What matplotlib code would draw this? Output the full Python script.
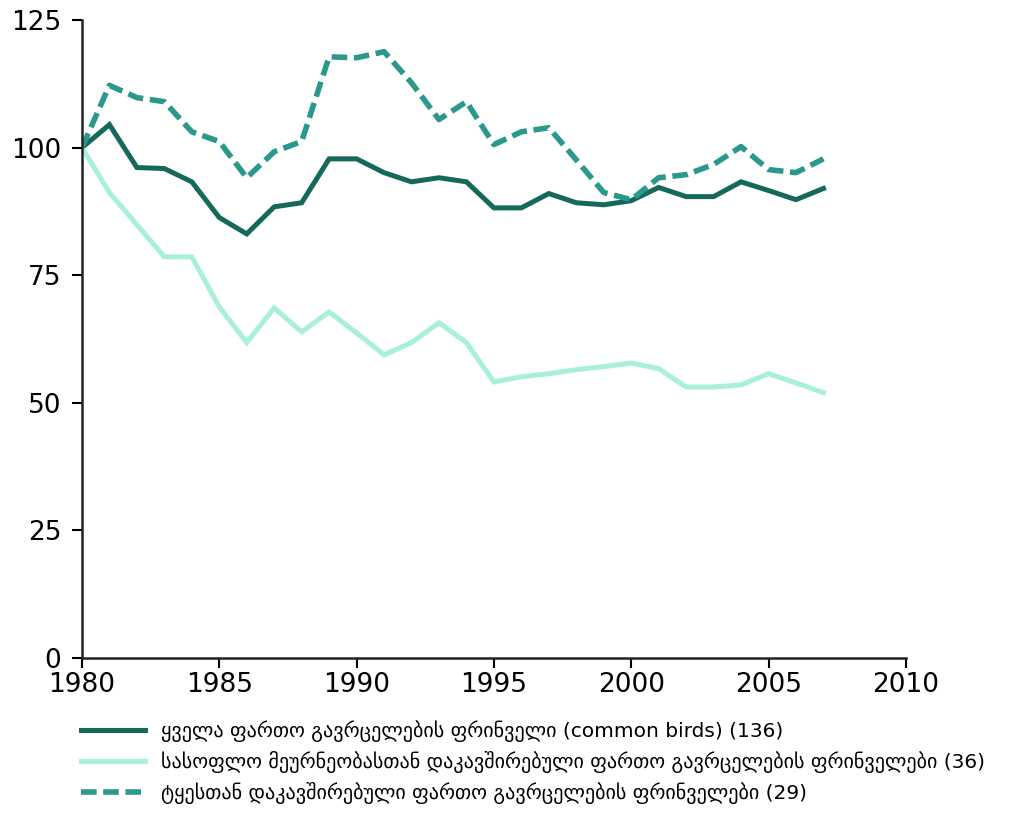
import matplotlib.pyplot as plt
import numpy as np

# years and index values (1980 = 100)
years = list(range(1980, 2008))

common_birds = [100, 104.5, 96.1, 95.9, 93.3, 86.3, 83.1, 88.4, 89.2, 97.8,
                97.8, 95.1, 93.3, 94.1, 93.3, 88.2, 88.2, 91.0, 89.2, 88.8,
                89.6, 92.2, 90.4, 90.4, 93.3, 91.6, 89.8, 92.0]

farmland_birds = [100, 91.2, 84.9, 78.6, 78.6, 68.8, 61.8, 68.6, 63.9, 67.8,
                  63.7, 59.4, 61.8, 65.7, 61.8, 54.1, 55.1, 55.7, 56.5, 57.1,
                  57.8, 56.7, 53.1, 53.1, 53.5, 55.7, 53.9, 52.0]

forest_birds = [100, 112.2, 109.8, 109.0, 103.1, 101.2, 94.1, 99.2, 101.2, 117.8,
                117.6, 118.8, 112.7, 105.5, 109.0, 100.6, 103.1, 103.9, 97.6, 91.2,
                89.8, 94.1, 94.7, 96.7, 100.2, 95.7, 95.1, 97.8]

labels = ["ყველა ფართო გავრცელების ფრინველი (common birds) (136)",
          "სასოფლო მეურნეობასთან დაკავშირებული ფართო გავრცელების ფრინველები (36)",
          "ტყესთან დაკავშირებული ფართო გავრცელების ფრინველები (29)"]

xticks = [1980, 1985, 1990, 1995, 2000, 2005, 2010]
yticks = [0, 25, 50, 75, 100, 125]

plt.rcParams['font.family'] = ['DejaVu Sans']

fig = plt.figure(figsize=(10.35, 8.14), dpi=100)
ax = fig.add_axes([0.0792, 0.1916, 0.796, 0.7838])

ax.plot(years, common_birds, color='#15695b', lw=3.6, label=labels[0],
        solid_joinstyle='miter')
ax.plot(years, farmland_birds, color='#a9f0dc', lw=3.6, label=labels[1],
        solid_joinstyle='miter')
ax.plot(years, forest_birds, color='#2a988b', lw=4.0, label=labels[2],
        dashes=(2.8, 1.2))

ax.set_xlim(1980, 2010)
ax.set_ylim(0, 125)
ax.set_xticks(xticks)
ax.set_yticks(yticks)
ax.tick_params(labelsize=19, length=7, width=1.5, direction='out')
ax.tick_params(axis='x', pad=3)
ax.tick_params(axis='y', pad=8)
for s in ['top', 'right']:
    ax.spines[s].set_visible(False)
for s in ['left', 'bottom']:
    ax.spines[s].set_linewidth(1.8)
    ax.spines[s].set_color('#222222')

leg = ax.legend(loc='upper left', bbox_to_anchor=(0.07, 0.125),
                bbox_transform=fig.transFigure, frameon=False, fontsize=14.5,
                handlelength=3.2, handletextpad=0.8, labelspacing=0.45,
                borderaxespad=0)

plt.savefig('out.png', dpi=100)
